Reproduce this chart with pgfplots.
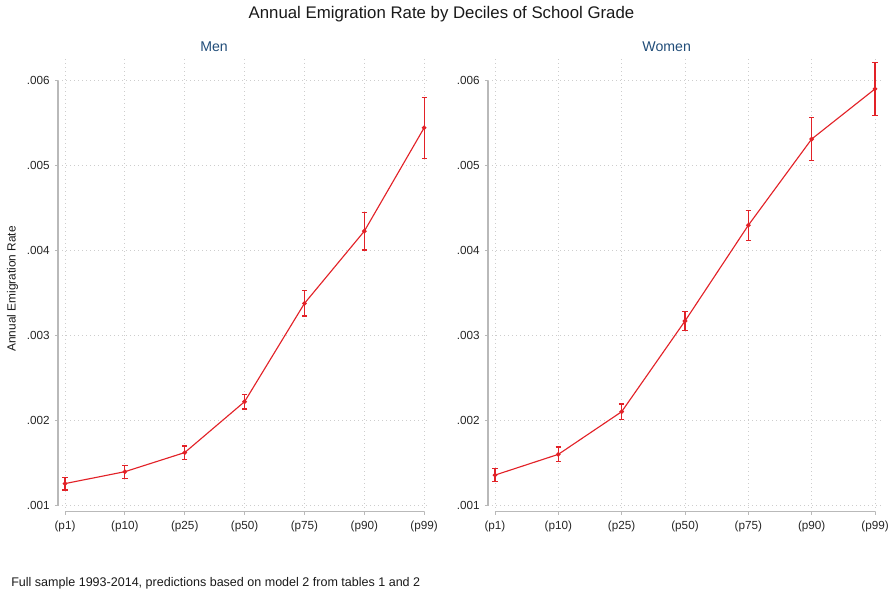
\documentclass[border=0pt]{standalone}
\usepackage{fontspec}
\setmainfont{Liberation Sans}
\usepackage{pgfplots}
\usepackage{pgfplotstable}
\pgfplotsset{compat=1.18}

\definecolor{linered}{RGB}{226,34,40}
\definecolor{subblue}{RGB}{32,76,120}
\definecolor{gridgray}{RGB}{205,205,205}
\definecolor{axisgray}{RGB}{185,185,185}

% predicted rate and half width of the confidence interval
\pgfplotstableread{
x  y         e
0  0.00126   0.000075
1  0.00140   0.000077
2  0.001625  0.000077
3  0.002224  0.000086
4  0.003380  0.000148
5  0.004230  0.000222
6  0.005447  0.000360
}\men
\pgfplotstableread{
x  y         e
0  0.001360  0.000080
1  0.001604  0.000086
2  0.002106  0.000090
3  0.003173  0.000109
4  0.004300  0.000175
5  0.005314  0.000256
6  0.005904  0.000308
}\women

\pgfplotsset{
  panel/.style={
    scale only axis,
    height=341pt,
    ymin=0.0009294, ymax=0.006279,
    clip=false,
    axis line style={draw=none},
    tick align=outside,
    xtick pos=bottom, ytick pos=left,
    major tick length=2.4pt,
    tick style={axisgray, line width=0.7pt},
    xtick={0,...,6},
    xticklabels={(p1),(p10),(p25),(p50),(p75),(p90),(p99)},
    ytick={0.001,0.002,0.003,0.004,0.005,0.006},
    yticklabels={.001,.002,.003,.004,.005,.006},
    tick label style={font=\fontsize{8.8}{10}\selectfont, text=black!85, inner sep=0pt},
    xticklabel shift=4.6pt,
    yticklabel shift=3.6pt,
    grid=major,
    major grid style={gridgray, line width=0.6pt, dash pattern=on 0.6pt off 2.4pt},
    scaled y ticks=false,
  },
  series/.style={
    color=linered, draw=linered, line width=0.85pt,
    mark=*, mark size=1.3pt,
    mark options={fill=linered, draw=linered},
    error bars/.cd, y dir=both, y explicit,
    error bar style={draw=linered, color=linered, line width=0.85pt},
    error mark options={draw=linered, color=linered, rotate=90, mark size=2pt, line width=0.85pt},
  },
}

\begin{document}
\begin{tikzpicture}
\useasboundingbox (0,0) rectangle (669.75pt,446.25pt);

\begin{axis}[panel, at={(43.5pt,62.475pt)}, anchor=south west,
  width=277.5pt, xmin=-0.117, xmax=6.064]
  \addplot[series] table[x=x, y=y, y error=e] {\men};
  \draw[axisgray, line width=0.9pt] (axis cs:-0.117,0.001) -- (axis cs:-0.117,0.006);
  \draw[axisgray, line width=0.9pt] (axis cs:0,0.0009294) -- (axis cs:6,0.0009294);
\end{axis}

\begin{axis}[panel, at={(366pt,62.475pt)}, anchor=south west,
  width=295.5pt, xmin=-0.11, xmax=6.11]
  \addplot[series] table[x=x, y=y, y error=e] {\women};
  \draw[axisgray, line width=0.9pt] (axis cs:-0.11,0.001) -- (axis cs:-0.11,0.006);
  \draw[axisgray, line width=0.9pt] (axis cs:0,0.0009294) -- (axis cs:6,0.0009294);
\end{axis}

\node[font=\fontsize{12.6}{14}\selectfont, text=black!90] at (331.1pt,435.75pt)
  {Annual Emigration Rate by Deciles of School Grade};
\node[font=\fontsize{10.6}{12}\selectfont, text=subblue] at (160.5pt,411pt) {Men};
\node[font=\fontsize{10.6}{12}\selectfont, text=subblue] at (500pt,411pt) {Women};
\node[font=\fontsize{8.9}{10}\selectfont, text=black!90, rotate=90] at (9.4pt,229.5pt)
  {Annual Emigration Rate};
\node[font=\fontsize{9.4}{11}\selectfont, text=black!90, anchor=west, inner sep=0pt]
  at (8.25pt,9pt) {Full sample 1993-2014, predictions based on model 2 from tables 1 and 2};
\end{tikzpicture}
\end{document}
